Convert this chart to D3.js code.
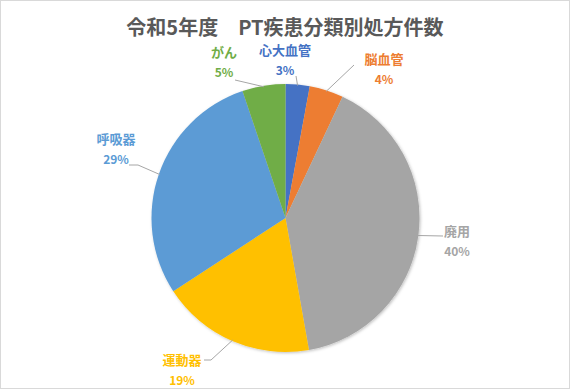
<!DOCTYPE html>
<html>
<head>
<meta charset="utf-8">
<script src="https://cdn.jsdelivr.net/npm/d3@7"></script>
<style>
  body { margin: 0; background: #fff; }
  svg { display: block; font-family: "Noto Sans CJK JP", "Noto Sans", sans-serif; }
</style>
</head>
<body>
<div class="mainContent"></div>
<script>
const w = 570;
const h = 389;

const categories = ['心大血管', '脳血管', '廃用', '運動器', '呼吸器', 'がん'];
const shares = [2.9, 4.1, 40.2, 18.6, 29.0, 5.2];
const colors = ['#4472C4', '#ED7D31', '#A5A5A5', '#FFC000', '#5B9BD5', '#70AD47'];
const labelColors = ['#4472C4', '#ED7D31', '#A5A5A5', '#FFC000', '#5B9BD5', '#70AD47'];
const title = '令和5年度　PT疾患分類別処方件数';

const cx = 285.5;
const cy = 218;
const r = 134;

// label anchor positions (center of name text) and leader line points
const labelPos = [
    {x: 285, y: 50, line: [[0, 0], [296, 76]]},
    {x: 384, y: 59, line: [[0, 0], [354, 65]]},
    {x: 457, y: 231, line: [[0, 0], [443, 236]]},
    {x: 182, y: 360, line: [[0, 0], [211, 360], [204, 360]]},
    {x: 116, y: 139, line: [[0, 0], [138, 165], [129, 165]]},
    {x: 224, y: 52, line: [[0, 0], [235, 80]]}
];

const data = categories.map((c, i) => ({name: c, value: shares[i], color: colors[i]}));

const svg = d3.select('.mainContent')
    .append('svg')
    .attr('width', w)
    .attr('height', h);

const defs = svg.append('defs');
const filt = defs.append('filter').attr('id', 'shadow')
    .attr('x', '-10%').attr('y', '-10%').attr('width', '120%').attr('height', '120%');
filt.append('feDropShadow')
    .attr('dx', 1).attr('dy', 1).attr('stdDeviation', 1.5)
    .attr('flood-color', '#000').attr('flood-opacity', 0.25);

svg.append('rect')
    .attr('x', 0.5).attr('y', 0.5)
    .attr('width', w - 1).attr('height', h - 1)
    .attr('fill', '#fff')
    .attr('stroke', '#d9d9d9');

svg.append('text')
    .attr('x', w / 2)
    .attr('y', 35)
    .attr('text-anchor', 'middle')
    .attr('font-size', 20)
    .attr('font-weight', 'bold')
    .attr('fill', '#595959')
    .text(title);

const pie = d3.pie().value(d => d.value).sort(null);
const arcs = pie(data);
const arc = d3.arc().innerRadius(0).outerRadius(r);
const edgeArc = d3.arc().innerRadius(r - 1).outerRadius(r - 1);

const g = svg.append('g').attr('transform', `translate(${cx},${cy})`);

g.append('g').attr('filter', 'url(#shadow)')
    .selectAll('path')
    .data(arcs)
    .enter()
    .append('path')
    .attr('d', arc)
    .attr('fill', d => d.data.color);

// leader lines
arcs.forEach((a, i) => {
    const p = edgeArc.centroid(a);
    const pts = labelPos[i].line.map((pt, j) => j === 0 ? [p[0] + cx, p[1] + cy] : pt);
    svg.append('path')
        .attr('d', d3.line()(pts))
        .attr('fill', 'none')
        .attr('stroke', '#a6a6a6')
        .attr('stroke-width', 1);
});

const labels = svg.append('g')
    .selectAll('g')
    .data(arcs)
    .enter()
    .append('g');

labels.append('text')
    .attr('x', (d, i) => labelPos[i].x)
    .attr('y', (d, i) => labelPos[i].y + 5)
    .attr('text-anchor', 'middle')
    .attr('font-size', 13)
    .attr('font-weight', 'bold')
    .attr('fill', (d, i) => labelColors[i])
    .text(d => d.data.name);

labels.append('text')
    .attr('x', (d, i) => labelPos[i].x)
    .attr('y', (d, i) => labelPos[i].y + 25)
    .attr('text-anchor', 'middle')
    .attr('font-size', 12)
    .attr('font-weight', 'bold')
    .attr('fill', (d, i) => labelColors[i])
    .text(d => Math.round(d.data.value) + '%');
</script>
</body>
</html>
